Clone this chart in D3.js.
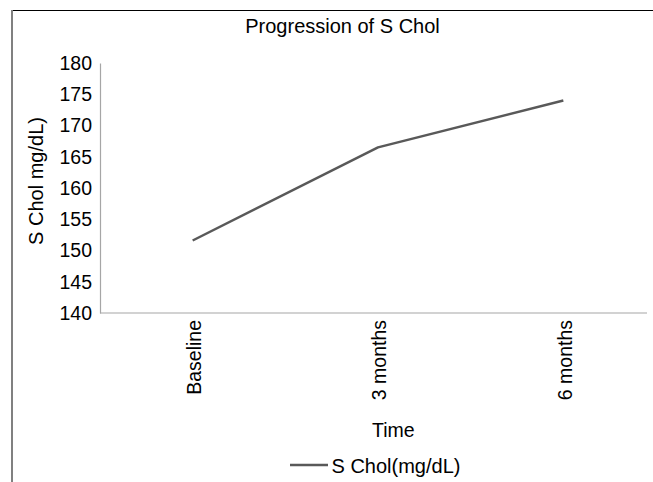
<!DOCTYPE html>
<html>
<head>
<meta charset="utf-8">
<script src="https://cdn.jsdelivr.net/npm/d3@7"></script>
<style>
  html, body { margin: 0; padding: 0; background: #fff; }
  svg { display: block; font-family: "Liberation Sans", Arial, sans-serif; }
</style>
</head>
<body>
<script>
// ---- data ----
const categories = ["Baseline", "3 months", "6 months"];
const seriesName = "S Chol(mg/dL)";
const seriesValues = [151.6, 166.5, 174.0];
const yTicks = [140, 145, 150, 155, 160, 165, 170, 175, 180];
const chartTitle = "Progression of S Chol";
const yTitle = "S Chol mg/dL)";
const xTitle = "Time";

// ---- layout ----
const W = 653, H = 482;
const plot = { left: 100, top: 63, bottom: 313, right: 647, bandWidth: 556 };
const fontSize = 19.5;

const svg = d3.select("body").append("svg").attr("width", W).attr("height", H);

// outer frame (top black, left grey)
svg.append("line").attr("x1", 11.5).attr("x2", W).attr("y1", 10.5).attr("y2", 10.5)
  .attr("stroke", "#000").attr("stroke-width", 1.2);
svg.append("line").attr("x1", 12).attr("x2", 12).attr("y1", 10).attr("y2", H)
  .attr("stroke", "#808080").attr("stroke-width", 2);

const x = d3.scaleBand().domain(categories).range([plot.left, plot.left + plot.bandWidth]).padding(0);
const y = d3.scaleLinear().domain([140, 180]).range([plot.bottom, plot.top]);

// y axis
const yAxis = svg.append("g").attr("transform", `translate(${plot.left},0)`)
  .call(d3.axisLeft(y).tickValues(yTicks).tickSize(0).tickPadding(8).tickFormat(d3.format("d")));
yAxis.select(".domain").attr("stroke", "#a6a6a6").attr("stroke-width", 1.2);
yAxis.selectAll("text").attr("font-size", fontSize).attr("fill", "#000")
  .attr("font-family", "Liberation Sans, Arial, sans-serif");

// x axis
const xAxis = svg.append("g").attr("transform", `translate(0,${plot.bottom})`)
  .call(d3.axisBottom(x).tickSize(0).tickSizeOuter(0));
xAxis.select(".domain").remove();
xAxis.append("line").attr("x1", plot.left).attr("x2", plot.right).attr("y1", 0).attr("y2", 0)
  .attr("stroke", "#a6a6a6").attr("stroke-width", 1.2);
xAxis.selectAll(".tick text")
  .attr("font-size", fontSize).attr("fill", "#000")
  .attr("font-family", "Liberation Sans, Arial, sans-serif")
  .attr("text-anchor", "end")
  .attr("transform", "rotate(-90)")
  .attr("x", -7).attr("y", 0).attr("dy", "0.42em");

// line
const line = d3.line().x((d, i) => x(categories[i]) + x.bandwidth() / 2).y(d => y(d));
svg.append("path").datum(seriesValues).attr("d", line)
  .attr("fill", "none").attr("stroke", "#595959").attr("stroke-width", 2.5)
  .attr("stroke-linejoin", "round");

// titles
svg.append("text").attr("x", 342.5).attr("y", 33.3).attr("text-anchor", "middle")
  .attr("font-size", 20).attr("fill", "#000").text(chartTitle);
svg.append("text").attr("transform", "translate(42.5,181) rotate(-90)")
  .attr("text-anchor", "middle").attr("font-size", 20).attr("fill", "#000").text(yTitle);
svg.append("text").attr("x", 393.3).attr("y", 436.7).attr("text-anchor", "middle")
  .attr("font-size", fontSize).attr("fill", "#000").text(xTitle);

// legend
const lg = svg.append("g").attr("transform", "translate(290,465)");
lg.append("line").attr("x1", 0).attr("x2", 38).attr("y1", 0).attr("y2", 0)
  .attr("stroke", "#595959").attr("stroke-width", 2.5);
lg.append("text").attr("x", 41.5).attr("y", 8).attr("font-size", 20)
  .attr("fill", "#000").text(seriesName);
</script>
</body>
</html>
